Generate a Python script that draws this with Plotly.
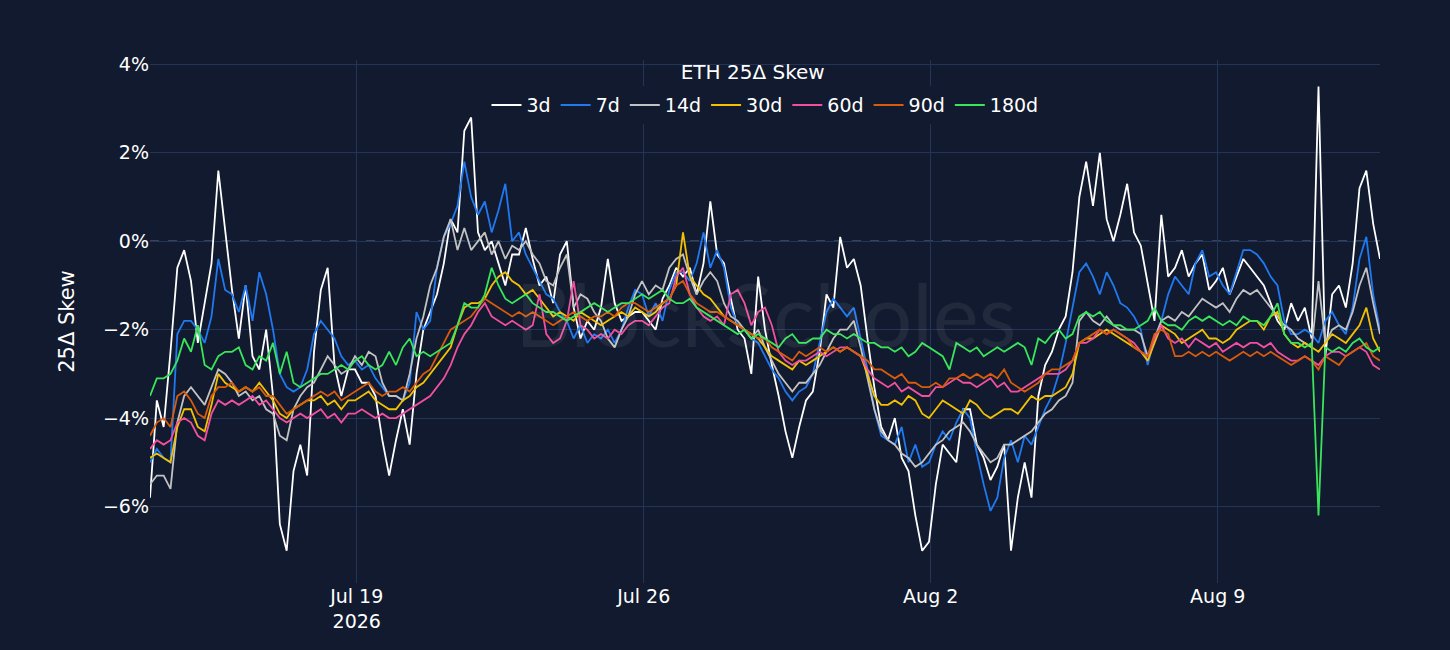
import pandas as pd
from plotly import graph_objects as go

# 4-hourly samples
timestamps = pd.date_range("2026-07-13 23:00", periods=181, freq="4h")

skew_3d = [
    -5.8, -3.6, -4.2, -2.5, -0.6, -0.2,
    -0.9, -2.3, -1.4, -0.5, 1.6, 0.25,
    -1.1, -2.2, -1.0, -2.6, -2.9, -2.0,
    -3.5, -6.4, -7.0, -5.2, -4.6, -5.3,
    -2.5, -1.1, -0.6, -2.8, -3.5, -2.9,
    -2.9, -3.2, -3.2, -3.5, -4.5, -5.3,
    -4.5, -3.8, -4.6, -3.0, -2.0, -1.6,
    -1.2, -0.5, 0.5, 0.2, 2.5, 2.8,
    0.2, -0.2, 0.0, -0.5, -1.0, -0.3,
    -0.3, 0.3, -0.4, -1.0, -0.8, -1.4,
    -0.3, 0.0, -1.5, -2.2, -1.8, -2.0,
    -1.5, -0.4, -1.4, -1.8, -1.7, -1.6,
    -1.6, -1.8, -2.0, -1.3, -1.0, -0.6,
    -0.8, -0.6, -1.2, -0.5, 0.9, -0.3,
    -0.5, -1.3, -2.0, -2.2, -3.0, -0.8,
    -2.0, -2.8, -3.5, -4.3, -4.9, -4.2,
    -3.6, -3.4, -2.5, -1.2, -1.5, 0.1,
    -0.6, -0.4, -1.0, -2.2, -3.3, -4.2,
    -4.5, -4.0, -4.9, -5.2, -6.2, -7.0,
    -6.8, -5.5, -4.6, -4.8, -5.0, -3.8,
    -3.8, -4.6, -4.9, -5.4, -5.1, -4.6,
    -7.0, -5.8, -5.0, -5.8, -3.5, -2.8,
    -2.5, -2.0, -1.7, -0.7, 1.0, 1.8,
    0.8, 2.0, 0.5, 0.0, 0.6, 1.3,
    0.2, -0.1, -1.0, -1.8, 0.6, -0.8,
    -0.6, -0.2, -0.8, -0.5, -0.3, -1.1,
    -0.9, -0.6, -1.2, -0.8, -0.4, -0.6,
    -0.8, -1.0, -1.4, -1.8, -2.0, -1.4,
    -1.8, -1.5, -2.2, 3.5, -2.6, -1.2,
    -1.0, -1.5, -0.5, 1.2, 1.6, 0.4,
    -0.4,
]

skew_7d = [
    -5.0, -4.7, -4.9, -5.0, -2.1, -1.8,
    -1.8, -2.0, -2.3, -1.7, -0.4, -1.1,
    -1.2, -1.6, -1.0, -1.8, -0.7, -1.2,
    -2.0, -3.0, -3.3, -3.4, -3.3, -2.9,
    -2.1, -1.8, -2.0, -2.2, -2.6, -2.8,
    -2.7, -2.9, -2.8, -3.1, -3.3, -3.5,
    -3.5, -3.6, -3.2, -1.6, -2.0, -1.8,
    -0.6, 0.1, 0.4, 0.8, 1.8, 1.0,
    0.6, 0.9, 0.2, 0.7, 1.3, 0.0,
    0.2, -0.3, -0.6, -0.9, -1.2, -1.3,
    -1.6, -1.8, -2.2, -1.9, -2.3, -2.1,
    -2.2, -2.0, -2.3, -2.0, -1.5, -1.1,
    -1.2, -1.7, -1.4, -1.8, -1.1, -0.7,
    -0.7, -0.9, -0.5, 0.2, -0.6, -0.2,
    -0.6, -1.5, -1.9, -2.0, -2.2, -2.3,
    -2.6, -2.9, -3.1, -3.4, -3.6, -3.4,
    -3.3, -3.0, -2.3, -1.6, -1.3, -1.5,
    -1.7, -1.5, -2.2, -2.9, -3.8, -4.4,
    -4.5, -4.6, -4.2, -5.0, -4.6, -5.1,
    -5.0, -4.6, -4.3, -4.5, -4.1, -3.8,
    -4.0, -4.8, -5.5, -6.1, -5.8, -4.9,
    -4.5, -5.0, -4.4, -4.6, -4.2, -3.8,
    -3.5, -3.0, -2.3, -1.5, -0.7, -0.5,
    -0.8, -1.2, -0.7, -1.0, -1.4, -1.5,
    -1.7, -2.0, -2.8, -2.2, -1.8, -1.2,
    -0.8, -1.0, -1.2, -0.5, -0.2, -0.8,
    -0.7, -1.0, -1.2, -0.7, -0.2, -0.2,
    -0.3, -0.5, -0.8, -1.0, -1.8, -2.1,
    -2.1, -2.0, -2.1, -2.3, -1.8, -1.6,
    -1.9, -2.1, -1.5, -0.4, 0.1, -1.2,
    -2.0,
]

skew_14d = [
    -5.5, -5.3, -5.3, -5.6, -4.1, -3.5,
    -3.3, -3.5, -3.7, -3.3, -2.9, -3.0,
    -3.2, -3.5, -3.4, -3.6, -3.5, -3.8,
    -3.9, -4.4, -4.5, -3.8, -3.5, -3.3,
    -3.2, -2.9, -2.6, -2.8, -3.0, -2.9,
    -2.6, -2.8, -2.5, -2.6, -3.2, -3.5,
    -3.5, -3.6, -3.0, -2.2, -1.7, -1.0,
    -0.6, 0.1, 0.5, -0.2, 0.3, -0.2,
    0.0, 0.2, -0.3, 0.0, -0.4, -0.1,
    -0.2, 0.0, -0.3, -0.5, -0.9, -1.0,
    -0.6, -0.3, -1.5, -1.2, -1.3, -1.6,
    -1.8, -2.2, -2.4, -2.0, -1.7, -1.2,
    -0.9, -1.2, -1.0, -1.1, -0.6, -0.4,
    -0.3, -0.8, -1.2, -0.9, -0.7, -0.9,
    -1.4, -1.7, -1.8, -2.0, -2.2, -2.0,
    -2.4, -2.7, -3.0, -3.2, -3.4, -3.2,
    -3.2, -3.0, -2.8, -2.5, -2.2, -2.0,
    -2.0, -1.8, -2.4, -3.1, -3.8, -4.3,
    -4.5, -4.6, -4.8, -4.9, -5.1, -5.0,
    -4.8, -4.6, -4.5, -4.3, -4.2, -4.1,
    -4.3, -4.6, -4.8, -5.0, -4.9, -4.6,
    -4.6, -4.5, -4.4, -4.3, -4.1, -3.9,
    -3.8, -3.6, -3.5, -3.2, -1.8, -1.6,
    -1.8, -1.9, -1.7, -1.9, -2.0, -2.0,
    -2.0, -2.1, -2.6, -2.2, -1.8, -1.7,
    -1.8, -1.6, -1.7, -1.5, -1.3, -1.4,
    -1.5, -1.4, -1.6, -1.3, -1.1, -1.2,
    -1.1, -1.3, -1.5, -1.7, -1.9, -2.0,
    -2.2, -2.3, -2.4, -0.9, -2.3, -2.0,
    -1.9, -2.0, -1.6, -1.0, -0.6, -1.4,
    -2.1,
]

skew_30d = [
    -4.9, -4.8, -4.9, -5.0, -4.2, -3.8,
    -3.8, -4.2, -4.3, -3.7, -3.0, -3.2,
    -3.3, -3.4, -3.3, -3.4, -3.2, -3.4,
    -3.6, -3.9, -4.0, -3.8, -3.7, -3.6,
    -3.6, -3.5, -3.7, -3.6, -3.8, -3.6,
    -3.6, -3.5, -3.4, -3.6, -3.7, -3.8,
    -3.8, -3.6, -3.5, -3.3, -3.2, -3.0,
    -2.8, -2.6, -2.4, -1.9, -1.5, -1.4,
    -1.4, -1.3, -1.0, -0.8, -0.7, -0.9,
    -1.0, -1.2, -1.1, -1.3, -1.5, -1.7,
    -1.6, -1.7, -1.8, -1.6, -1.7, -1.8,
    -1.9, -1.8, -1.7, -1.6, -1.7, -1.5,
    -1.6, -1.7, -1.6, -1.4, -1.3, -1.0,
    0.2, -0.8, -1.0, -1.2, -1.3, -1.5,
    -1.7, -1.8, -1.9, -2.0, -2.1, -2.2,
    -2.4, -2.6, -2.7, -2.8, -2.9, -2.7,
    -2.8, -2.7, -2.6, -2.5, -2.4, -2.5,
    -2.4, -2.5, -2.6, -3.0, -3.5, -3.7,
    -3.7, -3.6, -3.7, -3.5, -3.6, -3.9,
    -4.0, -3.8, -3.6, -3.7, -3.8, -3.9,
    -3.6, -3.7, -3.9, -4.0, -3.9, -3.8,
    -3.8, -3.9, -3.7, -3.5, -3.6, -3.5,
    -3.5, -3.4, -3.3, -3.0, -2.3, -2.2,
    -2.2, -2.1, -2.0, -2.1, -2.2, -2.3,
    -2.4, -2.5, -2.7, -2.3, -1.9, -2.0,
    -2.1, -2.3, -2.2, -2.1, -2.0, -2.2,
    -2.2, -2.3, -2.2, -2.0, -1.9, -1.8,
    -1.8, -2.0, -1.7, -1.6, -2.1, -2.3,
    -2.4, -2.3, -2.4, -2.5, -2.3, -2.1,
    -2.2, -2.3, -2.1, -1.9, -1.5, -2.2,
    -2.5,
]

skew_60d = [
    -4.7, -4.5, -4.6, -4.5, -4.1, -4.0,
    -4.1, -4.4, -4.5, -3.9, -3.6, -3.7,
    -3.6, -3.7, -3.6, -3.5, -3.7, -3.6,
    -3.8, -4.0, -4.1, -4.0, -3.9, -4.0,
    -3.9, -3.8, -4.0, -3.9, -4.1, -3.9,
    -3.9, -3.8, -3.9, -4.0, -3.9, -4.0,
    -4.0, -3.9, -3.8, -3.7, -3.6, -3.5,
    -3.3, -3.1, -2.8, -2.4, -2.1, -1.9,
    -1.6, -1.4, -1.7, -1.8, -1.9, -1.8,
    -1.9, -2.0, -1.9, -1.2, -2.1, -2.3,
    -2.2, -1.8, -0.9, -1.9, -2.0, -2.2,
    -2.1, -2.2, -2.0, -2.1, -1.9, -1.8,
    -1.8, -1.9, -1.7, -1.5, -1.4, -0.8,
    -0.6, -1.2, -1.5, -1.7, -1.8, -1.7,
    -1.9, -1.2, -1.1, -1.4, -1.9, -1.6,
    -1.5, -1.9, -2.5, -2.7, -2.8, -2.7,
    -2.7, -2.6, -2.5, -2.6, -2.5, -2.4,
    -2.4, -2.5, -2.6, -2.9, -3.1, -3.2,
    -3.3, -3.2, -3.4, -3.3, -3.4, -3.5,
    -3.5, -3.3, -3.3, -3.2, -3.1, -3.2,
    -3.2, -3.3, -3.2, -3.1, -3.3, -3.2,
    -3.4, -3.4, -3.3, -3.2, -3.1, -3.0,
    -3.0, -3.0, -2.9, -2.7, -2.3, -2.3,
    -2.2, -2.0, -2.1, -2.0, -2.1, -2.2,
    -2.3, -2.5, -2.6, -2.2, -1.9, -2.2,
    -2.3, -2.2, -2.4, -2.2, -2.3, -2.4,
    -2.3, -2.5, -2.4, -2.3, -2.4, -2.3,
    -2.3, -2.4, -2.3, -2.5, -2.6, -2.7,
    -2.7, -2.6, -2.7, -2.8, -2.6, -2.5,
    -2.5, -2.6, -2.5, -2.4, -2.5, -2.8,
    -2.9,
]

skew_90d = [
    -4.4, -4.1, -4.0, -4.2, -3.5, -3.4,
    -3.6, -3.9, -4.0, -3.5, -3.3, -3.3,
    -3.2, -3.4, -3.3, -3.4, -3.3, -3.5,
    -3.5, -3.7, -3.9, -3.8, -3.7, -3.6,
    -3.5, -3.4, -3.5, -3.4, -3.6, -3.5,
    -3.4, -3.3, -3.2, -3.4, -3.5, -3.4,
    -3.4, -3.3, -3.4, -3.2, -3.0, -2.9,
    -2.6, -2.3, -2.0, -1.9, -1.8, -1.7,
    -1.5, -1.3, -1.4, -1.5, -1.6, -1.7,
    -1.6, -1.7, -1.6, -1.7, -1.8, -1.9,
    -1.8, -1.7, -1.6, -1.7, -1.8, -1.7,
    -1.7, -1.6, -1.7, -1.5, -1.4, -1.4,
    -1.5, -1.6, -1.5, -1.4, -1.3, -1.0,
    -0.9, -1.2, -1.4, -1.5, -1.6, -1.6,
    -1.7, -1.8, -1.9, -2.0, -2.1, -2.2,
    -2.2, -2.4, -2.5, -2.6, -2.7, -2.5,
    -2.6, -2.5, -2.4, -2.5, -2.4, -2.5,
    -2.4, -2.5, -2.6, -2.7, -2.9, -2.9,
    -3.0, -3.1, -3.0, -3.2, -3.2, -3.3,
    -3.3, -3.2, -3.3, -3.1, -3.1, -3.0,
    -3.1, -3.0, -3.1, -3.0, -3.1, -2.9,
    -3.2, -3.3, -3.4, -3.3, -3.2, -3.0,
    -2.9, -2.9, -2.8, -2.7, -2.3, -2.2,
    -2.1, -2.0, -2.1, -2.0, -2.1, -2.2,
    -2.4, -2.5, -2.6, -2.1, -2.0, -2.1,
    -2.6, -2.6, -2.5, -2.6, -2.5, -2.6,
    -2.5, -2.6, -2.7, -2.6, -2.5, -2.6,
    -2.5, -2.6, -2.5, -2.6, -2.7, -2.8,
    -2.7, -2.6, -2.7, -2.9, -2.6, -2.7,
    -2.8, -2.6, -2.5, -2.4, -2.3, -2.6,
    -2.7,
]

skew_180d = [
    -3.5, -3.1, -3.1, -3.0, -2.7, -2.2,
    -2.5, -1.9, -2.8, -2.9, -2.6, -2.5,
    -2.5, -2.4, -2.8, -2.9, -2.6, -2.7,
    -2.3, -3.0, -2.5, -3.2, -3.3, -3.2,
    -3.1, -3.0, -3.0, -2.9, -2.8, -2.9,
    -2.7, -2.6, -2.8, -2.9, -2.8, -2.5,
    -2.8, -2.4, -2.2, -2.6, -2.5, -2.6,
    -2.5, -2.4, -2.3, -1.9, -1.4, -1.5,
    -1.5, -1.2, -0.6, -1.0, -1.3, -1.4,
    -1.3, -1.2, -1.4, -1.5, -1.6, -1.6,
    -1.7, -1.8, -1.7, -1.6, -1.5, -1.4,
    -1.5, -1.6, -1.5, -1.4, -1.4, -1.3,
    -1.2, -1.3, -1.2, -1.1, -1.3, -1.4,
    -1.4, -1.3, -1.5, -1.6, -1.7, -1.8,
    -1.9, -2.0, -2.1, -2.0, -2.2, -2.1,
    -2.2, -2.3, -2.4, -2.2, -2.1, -2.3,
    -2.3, -2.2, -2.2, -2.0, -2.1, -2.1,
    -2.2, -2.1, -2.2, -2.3, -2.3, -2.4,
    -2.4, -2.5, -2.4, -2.6, -2.5, -2.3,
    -2.4, -2.5, -2.6, -2.9, -2.3, -2.4,
    -2.5, -2.4, -2.6, -2.5, -2.4, -2.5,
    -2.4, -2.3, -2.4, -2.8, -2.2, -2.3,
    -2.1, -2.0, -2.2, -2.1, -1.7, -1.6,
    -1.7, -1.6, -1.8, -1.9, -1.9, -2.0,
    -2.0, -1.9, -1.8, -1.5, -1.8, -1.9,
    -1.9, -2.0, -1.8, -1.7, -1.8, -1.7,
    -1.8, -1.9, -1.8, -1.9, -1.7, -1.8,
    -1.8, -1.9, -1.7, -1.4, -2.1, -2.3,
    -2.3, -2.4, -2.3, -6.2, -2.4, -2.5,
    -2.4, -2.5, -2.3, -2.2, -2.4, -2.5,
    -2.4,
]

tenors = ["3d", "7d", "14d", "30d", "60d", "90d", "180d"]
series = [skew_3d, skew_7d, skew_14d, skew_30d, skew_60d, skew_90d, skew_180d]
colors = ["#ffffff", "#2079f0", "#c2c2c2", "#f2c200", "#f2509f", "#d95b0b", "#39e65a"]

BG = "#111a2e"
GRID = "#243456"
FONT = "DejaVu Sans"

fig = go.Figure()
for name, vals, col in zip(tenors, series, colors):
    fig.add_trace(go.Scatter(
        x=timestamps,
        y=vals,
        mode="lines",
        name=name,
        line=dict(color=col, width=1.8),
    ))

# dashed zero reference
fig.add_hline(y=0, line=dict(color="#5d6c8c", width=1.5, dash="dash"), layer="below")

# faint watermark
fig.add_annotation(
    text="BlockScholes", xref="paper", yref="paper", x=0.5, y=0.515,
    showarrow=False, font=dict(family="Lato", size=87, color="rgba(255,255,255,0.07)"),
)

fig.update_layout(
    width=1450,
    height=650,
    paper_bgcolor=BG,
    plot_bgcolor=BG,
    font=dict(family=FONT, color="white", size=18),
    title=dict(text="ETH 25Δ Skew", x=0.49, xref="paper", y=0.889, yanchor="middle",
               font=dict(size=20, color="white")),
    legend=dict(orientation="h", x=0.5, xanchor="center", y=0.95, yanchor="top",
                bgcolor=BG, font=dict(size=19)),
    margin=dict(l=150, r=70, t=60, b=67),
    xaxis=dict(
        showgrid=True, gridcolor=GRID, gridwidth=1,
        tick0="2026-07-19", dtick=7 * 86400000,
        tickfont=dict(size=19), zeroline=False, showline=False,
    ),
    yaxis=dict(
        title=dict(text="25Δ Skew", font=dict(size=21), standoff=22),
        range=[-7.73, 4.1], dtick=2, ticksuffix="%",
        showgrid=True, gridcolor=GRID, gridwidth=1,
        tickfont=dict(size=19), zeroline=False,
    ),
)

# drop the default page margin so the figure sits flush in the window
fig.write_html(
    "out.html",
    config={"displayModeBar": False},
    post_script="document.body.style.margin='0';",
)
